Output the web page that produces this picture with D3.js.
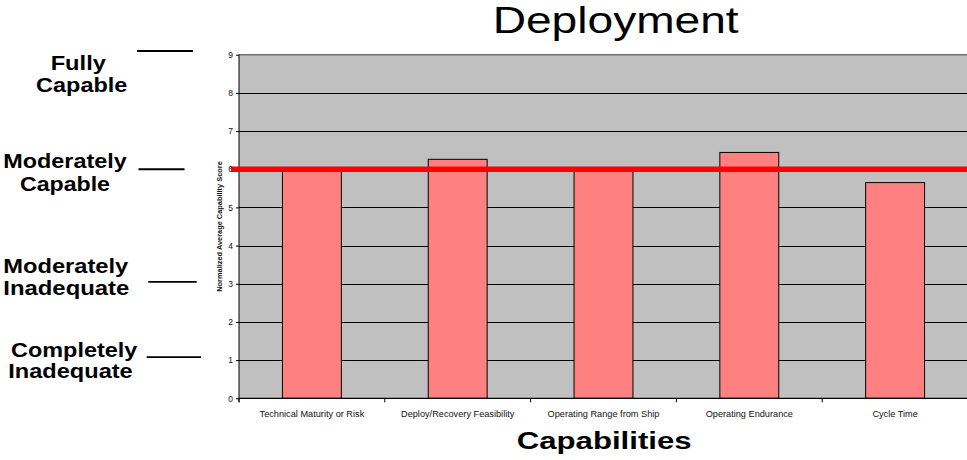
<!DOCTYPE html>
<html>
<head>
<meta charset="utf-8">
<script src="https://cdn.jsdelivr.net/npm/d3@7"></script>
<style>
  html, body { margin: 0; padding: 0; background: #fff; }
  svg { display: block; }
  text { font-family: "Liberation Sans", Arial, Helvetica, sans-serif; }
</style>
</head>
<body>
<svg id="chart" width="967" height="460"></svg>
<script>
// Capability categories and their normalized average scores
const categories = [
  "Technical Maturity or Risk",
  "Deploy/Recovery Feasibility",
  "Operating Range from Ship",
  "Operating Endurance",
  "Cycle Time"
];
const scores = [5.97, 6.26, 5.97, 6.44, 5.65];
const yTicks = [0, 1, 2, 3, 4, 5, 6, 7, 8, 9];
const threshold = 6;

// Qualitative rating bands shown to the left of the axis
const ratingLabels = [
  { lines: ["Fully", "Capable"], value: 9.1 },
  { lines: ["Moderately", "Capable"], value: 6.0 },
  { lines: ["Moderately", "Inadequate"], value: 3.05 },
  { lines: ["Completely", "Inadequate"], value: 1.08 }
];

const svg = d3.select("#chart");
const plot = { left: 239, right: 968, top: 54.7, bottom: 398.3 };

const y = d3.scaleLinear().domain([0, 9]).range([plot.bottom, plot.top]);
const x = d3.scaleBand().domain(categories).range([plot.left, plot.right]).padding(0);
const barW = x.bandwidth() * 0.404;

// plot background
svg.append("rect")
  .attr("x", plot.left).attr("y", plot.top)
  .attr("width", plot.right - plot.left).attr("height", plot.bottom - plot.top)
  .attr("fill", "#c0c0c0");

// horizontal gridlines
svg.append("g").selectAll("line")
  .data(yTicks.filter(d => d > 0 && d < 9))
  .join("line")
  .attr("x1", plot.left).attr("x2", plot.right)
  .attr("y1", d => Math.round(y(d)) + 0.5).attr("y2", d => Math.round(y(d)) + 0.5)
  .attr("stroke", "#000").attr("stroke-width", 1);

// top border of the plot area
svg.append("line")
  .attr("x1", plot.left).attr("x2", plot.right)
  .attr("y1", y(9)).attr("y2", y(9))
  .attr("stroke", "#707070").attr("stroke-width", 1.5);

// bars
svg.append("g").selectAll("rect")
  .data(categories)
  .join("rect")
  .attr("x", (d) => x(d) + x.bandwidth() / 2 - barW / 2)
  .attr("y", (d, i) => y(scores[i]))
  .attr("width", barW)
  .attr("height", (d, i) => y(0) - y(scores[i]))
  .attr("fill", "#ff8080")
  .attr("stroke", "#000")
  .attr("stroke-width", 1);

// y axis
const yAxis = d3.axisLeft(y).tickValues(yTicks).tickSize(3).tickPadding(3).tickFormat(d3.format("d"));
const gy = svg.append("g").attr("transform", `translate(${plot.left},0)`).call(yAxis);
gy.select(".domain").attr("stroke", "#000").attr("d", `M0,${plot.top}V${plot.bottom + 4}`);
gy.selectAll(".tick line").attr("stroke", "#000");
gy.selectAll(".tick text").attr("font-size", 8.5).attr("fill", "#111")
  .style("font-family", '"Liberation Sans", Arial, sans-serif');

// x axis: baseline, boundary ticks, category labels
svg.append("line")
  .attr("x1", plot.left).attr("x2", plot.right)
  .attr("y1", y(0)).attr("y2", y(0))
  .attr("stroke", "#000").attr("stroke-width", 1.2);

const boundaries = categories.map(c => x(c)).concat([x.range()[1]]);
svg.append("g").selectAll("line")
  .data(boundaries)
  .join("line")
  .attr("x1", d => d).attr("x2", d => d)
  .attr("y1", y(0)).attr("y2", y(0) + 4)
  .attr("stroke", "#000");

svg.append("g").selectAll("text")
  .data(categories)
  .join("text")
  .attr("x", d => x(d) + x.bandwidth() / 2)
  .attr("y", 416.7)
  .attr("text-anchor", "middle")
  .attr("font-size", 9.2)
  .attr("fill", "#111")
  .text(d => d);

// threshold line
svg.append("line")
  .attr("x1", 231).attr("x2", plot.right)
  .attr("y1", y(threshold)).attr("y2", y(threshold))
  .attr("stroke", "#ff0000").attr("stroke-width", 5.5);

// titles
svg.append("text")
  .attr("x", 492.7).attr("y", 33.3)
  .attr("font-size", 37)
  .attr("textLength", 246).attr("lengthAdjust", "spacingAndGlyphs")
  .attr("fill", "#000")
  .text("Deployment");

svg.append("text")
  .attr("x", 516.7).attr("y", 449.3)
  .attr("font-size", 24.7).attr("font-weight", "bold")
  .attr("textLength", 175).attr("lengthAdjust", "spacingAndGlyphs")
  .attr("fill", "#000")
  .text("Capabilities");

svg.append("text")
  .attr("transform", `translate(222,${(plot.top + plot.bottom) / 2}) rotate(-90)`)
  .attr("text-anchor", "middle")
  .attr("font-size", 7.4).attr("font-weight", "bold")
  .attr("fill", "#111")
  .text("Normalized Average Capability Score");

// rating annotations
const labelLayout = [
  { cx: [78.3, 81.7], base: [70.3, 91.7], w: [55.3, 91.3], line: [137, 193] },
  { cx: [65, 65], base: [168.3, 190.7], w: [123.4, 90], line: [138.5, 184.5] },
  { cx: [65.8, 66.3], base: [273.3, 295], w: [125, 126], line: [148.3, 196.7] },
  { cx: [74.2, 70.5], base: [356.7, 378.3], w: [126.3, 124.4], line: [146.7, 201] }
];

const ann = svg.append("g");
ratingLabels.forEach((r, i) => {
  const L = labelLayout[i];
  r.lines.forEach((t, j) => {
    ann.append("text")
      .attr("x", L.cx[j] - L.w[j] / 2).attr("y", L.base[j])
      .attr("font-size", 21).attr("font-weight", "bold")
      .attr("textLength", L.w[j]).attr("lengthAdjust", "spacingAndGlyphs")
      .attr("fill", "#000")
      .text(t);
  });
  const ly = i === 0 ? 51 : y(r.value);
  ann.append("line")
    .attr("x1", L.line[0]).attr("x2", L.line[1])
    .attr("y1", ly).attr("y2", ly)
    .attr("stroke", "#000").attr("stroke-width", 1.8);
});
</script>
</body>
</html>
